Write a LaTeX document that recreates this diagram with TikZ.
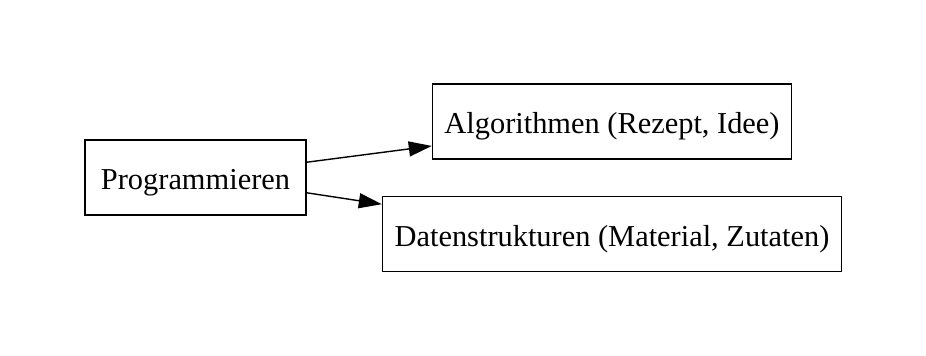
\documentclass[tikz,border=0pt]{standalone}
\usepackage{fontspec}
\setmainfont{Liberation Serif}
\usetikzlibrary{arrows.meta,calc}
\begin{document}
\begin{tikzpicture}[x=0.5pt,y=-0.5pt,
  box/.style={draw,line width=0.7pt,inner sep=0pt,minimum height=37.5pt,text height=14pt,text depth=2pt,font=\fontsize{15.2}{18}\selectfont},
  edge/.style={line width=0.7pt,-{Triangle[length=11.5pt,width=7.5pt]}}]
\useasboundingbox (0,0) rectangle (926,355);
\node[box,minimum width=110.5pt] (P) at (195.5,177.5) {Programmieren};
\node[box,minimum width=179.5pt] (A) at (612,121.5) {Algorithmen (Rezept, Idee)};
\node[box,minimum width=229.5pt] (D) at (612,234) {Datenstrukturen (Material, Zutaten)};
\draw[edge] ($(P.north east)!0.3!(P.south east)$) -- ($(A.north west)!0.82!(A.south west)$);
\draw[edge] ($(P.north east)!0.7!(P.south east)$) -- ($(D.north west)!0.11!(D.south west)$);
\end{tikzpicture}
\end{document}
